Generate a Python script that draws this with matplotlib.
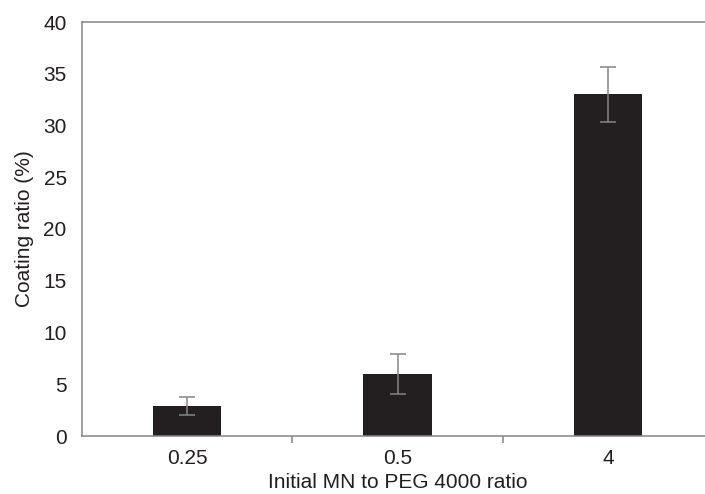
import matplotlib.pyplot as plt
from matplotlib.ticker import FixedLocator

plt.rcParams['font.family'] = ['Liberation Sans', 'DejaVu Sans']

ratios = ['0.25', '0.5', '4']
coating = [2.9, 6.0, 33.0]
coating_err = [0.85, 1.9, 2.65]

fig = plt.figure(figsize=(7.05, 4.94), dpi=100)
# axes runs past the right edge like in the original export
ax = fig.add_axes([82 / 705, 1 - 436 / 494, (713 - 82) / 705, (436 - 22) / 494])

x = list(range(len(ratios)))
ax.bar(x, coating, width=0.324, color='#231f20', zorder=2)
ax.errorbar(x, coating, yerr=coating_err, fmt='none', ecolor='#858585',
            elinewidth=1.1, capsize=5.5, capthick=1.1, zorder=3)

ax.set_xlim(-0.5, len(ratios) - 0.5)
ax.set_ylim(0, 40)
ax.set_yticks(range(0, 41, 5))
ax.set_xticks(x)
ax.set_xticklabels(ratios)
ax.xaxis.set_minor_locator(FixedLocator([0.5, 1.5]))

fs = 15
ax.tick_params(axis='y', length=0, pad=11, labelsize=fs, labelcolor='#231f20')
ax.tick_params(axis='x', which='major', length=0, pad=9, labelsize=fs, labelcolor='#231f20')
ax.tick_params(axis='x', which='minor', length=5, width=1.1, color='#858585')

for s in ax.spines.values():
    s.set_color('#858585')
    s.set_linewidth(1.1)

ax.set_ylabel('Coating ratio (%)', fontsize=fs, color='#231f20', labelpad=7)
ax.set_xlabel('Initial MN to PEG 4000 ratio', fontsize=fs, color='#231f20', labelpad=4)

fig.savefig('out.png', dpi=100)
